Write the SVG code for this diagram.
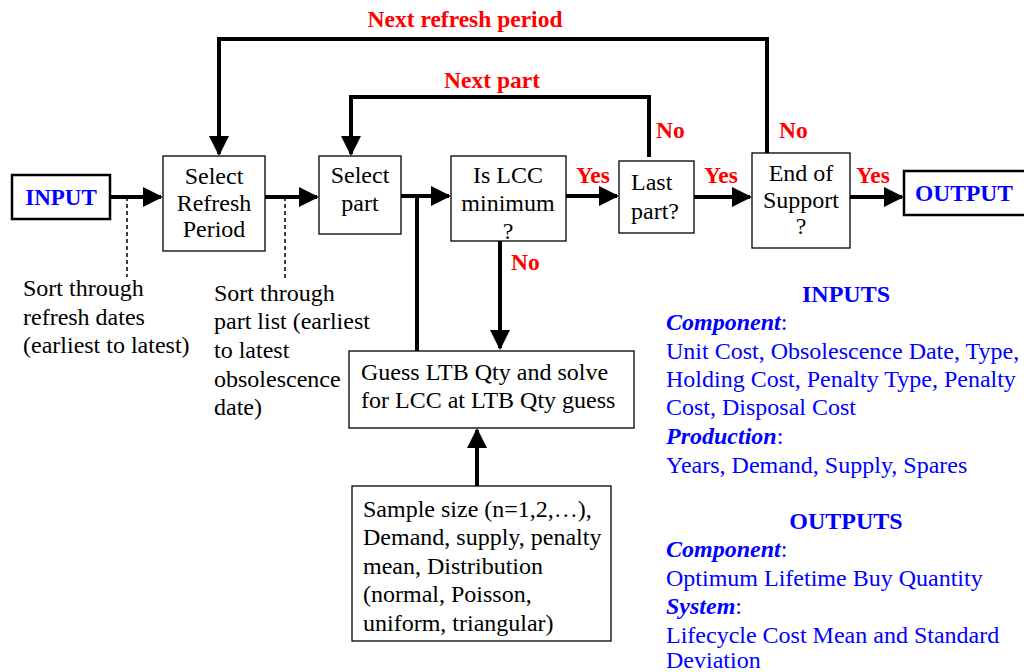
<svg xmlns="http://www.w3.org/2000/svg" width="1024" height="672" viewBox="0 0 1024 672">
<defs>
<marker id="ah" markerWidth="5" markerHeight="5" refX="4.5" refY="2.5" orient="auto" markerUnits="strokeWidth"><path d="M0,0 L5,2.5 L0,5 Z" fill="#000"/></marker>
<style>
text{font-family:"Liberation Serif","Times New Roman",serif;font-size:24px;fill:#000}
.box{fill:#fff;stroke:#000;stroke-width:1.3}
.io{fill:#fff;stroke:#000;stroke-width:2.5}
.c{text-anchor:middle}
.red{fill:#ff0000;font-weight:bold;font-size:23.5px}
.blue{fill:#0000ff}
.b{font-weight:bold}
.bi{font-weight:bold;font-style:italic}
.ln{fill:none;stroke:#000;stroke-width:4}
.dot{fill:none;stroke:#000;stroke-width:1.5;stroke-dasharray:4,3}
</style>
</defs>
<rect width="1024" height="672" fill="#fff"/>
<g id="connectors">
<line class="ln" x1="110" y1="197" x2="161" y2="197" marker-end="url(#ah)"/>
<line class="ln" x1="265" y1="197" x2="317" y2="197" marker-end="url(#ah)"/>
<line class="ln" x1="401" y1="196" x2="449" y2="196" marker-end="url(#ah)"/>
<line class="ln" x1="417" y1="196" x2="417" y2="351"/>
<line class="ln" x1="566" y1="196" x2="617" y2="196" marker-end="url(#ah)"/>
<line class="ln" x1="694" y1="197" x2="750" y2="197" marker-end="url(#ah)"/>
<line class="ln" x1="850" y1="197" x2="902" y2="197" marker-end="url(#ah)"/>
<polyline class="ln" points="649,157 649,97 351,97 351,154" marker-end="url(#ah)"/>
<polyline class="ln" points="767,153 767,39 219,39 219,154" marker-end="url(#ah)"/>
<line class="ln" x1="500" y1="241" x2="500" y2="348" marker-end="url(#ah)"/>
<line class="ln" x1="477" y1="486" x2="477" y2="430" marker-end="url(#ah)"/>
<line class="dot" x1="127" y1="197" x2="127" y2="277"/>
<line class="dot" x1="285" y1="197" x2="285" y2="280"/>
<text class="red c" x="465" y="27">Next refresh period</text>
<text class="red c" x="492" y="88">Next part</text>
<text class="red" x="656" y="138">No</text>
<text class="red" x="779" y="138">No</text>
<text class="red" x="576" y="183">Yes</text>
<text class="red" x="704" y="183">Yes</text>
<text class="red" x="856" y="183">Yes</text>
<text class="red" x="511" y="270">No</text>
</g>
<g id="input">
<rect class="io" x="12" y="175" width="98" height="44"/>
<text class="blue b c" x="61" y="205" style="font-size:23px">INPUT</text>
</g>
<g id="select-refresh">
<rect class="box" x="163" y="156" width="102" height="95"/>
<text class="c" x="214" y="184">Select</text>
<text class="c" x="214" y="211">Refresh</text>
<text class="c" x="214" y="237">Period</text>
</g>
<g id="select-part">
<rect class="box" x="319" y="156" width="82" height="78"/>
<text class="c" x="360" y="183">Select</text>
<text class="c" x="360" y="211">part</text>
</g>
<g id="lcc-min">
<rect class="box" x="451" y="156" width="115" height="85"/>
<text class="c" x="508" y="183">Is LCC</text>
<text class="c" x="508" y="211">minimum</text>
<text class="c" x="508" y="239">?</text>
</g>
<g id="last-part">
<rect class="box" x="619" y="161" width="75" height="72"/>
<text x="631" y="190">Last</text>
<text x="631" y="219">part?</text>
</g>
<g id="end-support">
<rect class="box" x="752" y="153" width="98" height="95"/>
<text class="c" x="801" y="181">End of</text>
<text class="c" x="801" y="208">Support</text>
<text class="c" x="801" y="234">?</text>
</g>
<g id="output">
<rect class="io" x="904" y="171" width="124" height="44"/>
<text class="blue b c" x="964" y="201" style="font-size:23.5px">OUTPUT</text>
</g>
<g id="guess">
<rect class="box" x="349" y="351" width="285" height="77"/>
<text x="361" y="380">Guess LTB Qty and solve</text>
<text x="361" y="408">for LCC at LTB Qty guess</text>
</g>
<g id="sample">
<rect class="box" x="352" y="486" width="259" height="155"/>
<text x="363" y="517">Sample size (n=1,2,…),</text>
<text x="363" y="545">Demand, supply, penalty</text>
<text x="363" y="574">mean, Distribution</text>
<text x="363" y="602">(normal, Poisson,</text>
<text x="363" y="631">uniform, triangular)</text>
</g>
<g id="note-refresh">
<text x="23" y="296">Sort through</text>
<text x="23" y="325">refresh dates</text>
<text x="23" y="353">(earliest to latest)</text>
</g>
<g id="note-part">
<text x="214" y="301">Sort through</text>
<text x="214" y="329">part list (earliest</text>
<text x="214" y="358">to latest</text>
<text x="214" y="387">obsolescence</text>
<text x="214" y="415">date)</text>
</g>
<g id="io-legend">
<text class="blue b c" x="846" y="302">INPUTS</text>
<text class="blue" x="666" y="330"><tspan class="bi">Component</tspan>:</text>
<text class="blue" x="666" y="359">Unit Cost, Obsolescence Date, Type,</text>
<text class="blue" x="666" y="387">Holding Cost, Penalty Type, Penalty</text>
<text class="blue" x="666" y="415">Cost, Disposal Cost</text>
<text class="blue" x="666" y="444"><tspan class="bi">Production</tspan>:</text>
<text class="blue" x="666" y="473">Years, Demand, Supply, Spares</text>
<text class="blue b c" x="846" y="529">OUTPUTS</text>
<text class="blue" x="666" y="557"><tspan class="bi">Component</tspan>:</text>
<text class="blue" x="666" y="586">Optimum Lifetime Buy Quantity</text>
<text class="blue" x="666" y="614"><tspan class="bi">System</tspan>:</text>
<text class="blue" x="666" y="643">Lifecycle Cost Mean and Standard</text>
<text class="blue" x="666" y="668">Deviation</text>
</g>
</svg>
